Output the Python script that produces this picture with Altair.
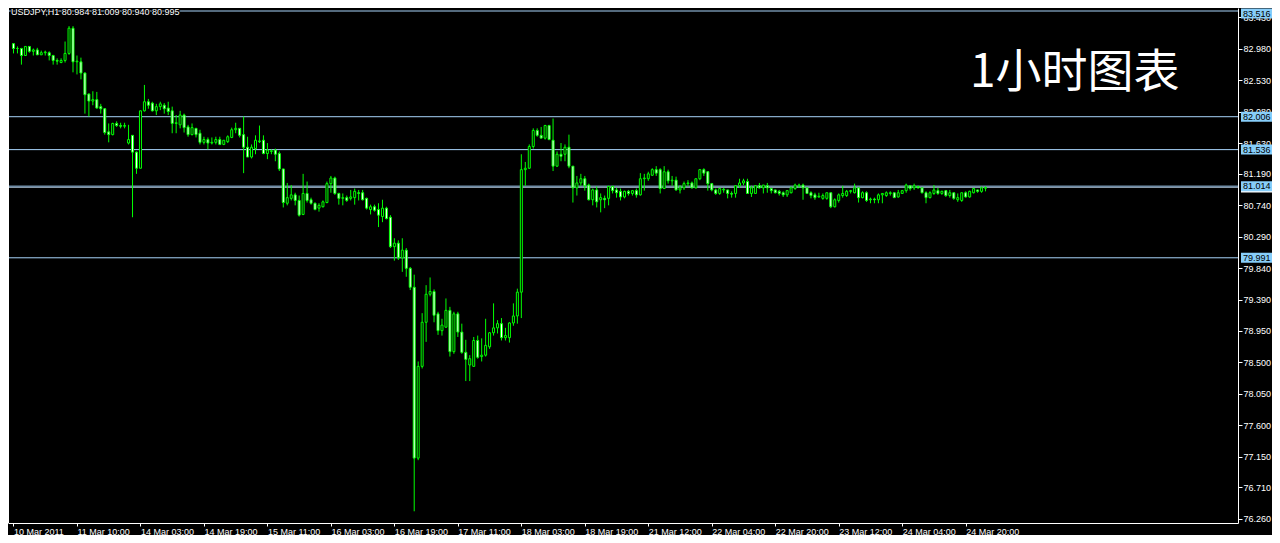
import altair as alt
import pandas as pd

# ---------------- data (USDJPY H1) ----------------
OPEN = [
 83.05, 82.98, 82.98, 82.88, 83.01, 82.94, 82.96, 82.89, 82.92, 82.92,
 82.88, 82.81, 82.78, 82.81, 82.91, 83.27, 82.79, 82.79, 82.63, 82.33,
 82.23, 82.25, 82.15, 82.12, 81.79, 81.75, 81.91, 81.88, 81.87, 81.63,
 81.74, 81.50, 81.27, 82.09, 82.22, 82.20, 82.09, 82.15, 82.17, 82.13,
 82.09, 81.91, 81.89, 82.03, 81.86, 81.75, 81.84, 81.77, 81.64, 81.68,
 81.63, 81.64, 81.68, 81.61, 81.65, 81.71, 81.82, 81.84, 81.75, 81.57,
 81.43, 81.55, 81.65, 81.67, 81.48, 81.51, 81.53, 81.48, 81.26, 80.77,
 80.84, 80.89, 80.81, 80.61, 80.91, 80.82, 80.77, 80.70, 80.72, 80.78,
 81.05, 81.13, 80.91, 80.84, 80.85, 80.84, 80.85, 80.92, 80.92, 80.84,
 80.68, 80.72, 80.68, 80.58, 80.70, 80.57, 80.15, 80.20, 79.99, 80.10,
 79.84, 79.57, 77.13, 78.44, 79.07, 79.47, 79.51, 79.19, 78.95, 79.00,
 79.24, 78.65, 79.19, 78.93, 78.64, 78.46, 78.44, 78.81, 78.58, 78.60,
 78.72, 78.92, 78.99, 79.05, 78.85, 78.85, 79.06, 79.16, 79.50, 81.25,
 81.27, 81.58, 81.81, 81.74, 81.70, 81.88, 81.67, 81.30, 81.47, 81.47,
 81.57, 81.30, 80.99, 81.06, 81.12, 81.03, 80.82, 80.96, 80.82, 80.84,
 80.84, 81.01, 80.96, 80.94, 80.86, 80.94, 80.91, 80.95, 80.89, 81.12,
 81.12, 81.17, 81.25, 81.25, 80.98, 81.22, 81.09, 81.10, 80.96, 80.99,
 81.05, 81.06, 80.99, 81.12, 81.25, 81.22, 81.05, 80.96, 80.91, 80.96,
 80.96, 80.91, 80.91, 81.02, 81.06, 81.08, 80.91, 80.91, 81.02, 80.99,
 81.02, 80.98, 80.96, 80.94, 80.92, 80.89, 80.92, 80.98, 81.02, 81.03,
 80.99, 80.92, 80.89, 80.86, 80.84, 80.84, 80.92, 80.72, 80.81, 80.88,
 80.88, 80.94, 80.92, 80.99, 80.85, 80.92, 80.82, 80.83, 80.82, 80.89,
 80.88, 80.91, 80.92, 80.86, 80.91, 80.95, 81.02, 80.99, 81.01, 80.99,
 80.92, 80.85, 80.91, 80.95, 80.91, 80.95, 80.88, 80.92, 80.82, 80.81,
 80.92, 80.86, 80.92, 80.96, 80.94, 80.984]
HIGH = [
 83.05, 83.01, 82.99, 83.01, 83.01, 82.98, 82.99, 82.95, 82.95, 82.94,
 82.89, 82.84, 82.84, 83.08, 83.30, 83.30, 82.88, 82.85, 82.64, 82.34,
 82.37, 82.36, 82.19, 82.13, 81.91, 81.92, 81.94, 81.92, 81.92, 81.89,
 81.74, 81.51, 82.09, 82.46, 82.26, 82.22, 82.19, 82.22, 82.20, 82.22,
 82.15, 82.03, 82.09, 82.05, 81.89, 81.91, 81.84, 81.82, 81.72, 81.71,
 81.71, 81.72, 81.72, 81.67, 81.74, 81.85, 81.92, 81.84, 82.01, 81.72,
 81.61, 81.74, 81.88, 81.74, 81.63, 81.54, 81.55, 81.51, 81.26, 81.06,
 81.03, 80.92, 80.88, 81.19, 81.08, 80.85, 80.78, 80.77, 80.81, 81.08,
 81.16, 81.15, 80.92, 80.91, 80.88, 80.96, 80.98, 80.96, 80.96, 80.85,
 80.75, 80.75, 80.77, 80.82, 80.72, 80.60, 80.27, 80.24, 80.27, 80.13,
 79.86, 79.75, 78.51, 79.20, 79.60, 79.71, 79.54, 79.22, 79.12, 79.41,
 79.29, 79.22, 79.22, 79.05, 78.82, 78.60, 78.86, 78.88, 78.84, 79.12,
 78.93, 79.34, 79.10, 79.13, 78.99, 79.07, 79.34, 79.55, 81.47, 81.36,
 81.61, 81.84, 81.84, 81.86, 81.89, 81.89, 81.98, 81.51, 81.63, 81.61,
 81.75, 81.30, 81.16, 81.19, 81.16, 81.05, 80.98, 81.01, 80.91, 80.88,
 81.02, 81.02, 80.99, 80.98, 80.95, 80.96, 80.96, 80.98, 81.20, 81.19,
 81.22, 81.27, 81.30, 81.27, 81.30, 81.25, 81.16, 81.15, 81.03, 81.08,
 81.10, 81.08, 81.12, 81.26, 81.27, 81.23, 81.06, 80.98, 80.99, 80.99,
 80.96, 80.94, 81.03, 81.12, 81.12, 81.12, 81.02, 81.03, 81.06, 81.03,
 81.06, 80.99, 80.96, 80.96, 80.94, 80.96, 81.01, 81.05, 81.05, 81.05,
 80.99, 80.94, 80.92, 80.92, 80.91, 80.92, 80.92, 80.84, 80.91, 81.02,
 80.96, 80.96, 81.05, 80.99, 80.94, 80.94, 80.85, 80.85, 80.91, 80.91,
 80.94, 80.94, 80.92, 80.96, 80.96, 81.05, 81.03, 81.05, 81.02, 80.99,
 80.94, 80.94, 81.03, 80.99, 80.95, 80.96, 80.96, 80.92, 80.91, 80.92,
 80.94, 80.95, 80.99, 80.96, 81.01, 81.009]
LOW = [
 82.91, 82.91, 82.75, 82.88, 82.92, 82.88, 82.89, 82.89, 82.88, 82.81,
 82.75, 82.75, 82.77, 82.78, 82.89, 82.64, 82.61, 82.54, 82.05, 82.01,
 82.17, 82.12, 82.05, 81.75, 81.64, 81.74, 81.86, 81.84, 81.84, 81.61,
 80.57, 81.19, 81.27, 82.08, 82.12, 82.08, 82.03, 82.10, 82.05, 82.03,
 81.77, 81.77, 81.84, 81.78, 81.72, 81.74, 81.71, 81.61, 81.61, 81.54,
 81.61, 81.61, 81.60, 81.60, 81.63, 81.70, 81.77, 81.71, 81.20, 81.43,
 81.41, 81.47, 81.63, 81.47, 81.40, 81.47, 81.37, 81.23, 80.71, 80.74,
 80.81, 80.74, 80.58, 80.60, 80.78, 80.75, 80.67, 80.65, 80.71, 80.77,
 80.92, 80.89, 80.75, 80.74, 80.79, 80.81, 80.75, 80.81, 80.81, 80.68,
 80.61, 80.65, 80.43, 80.50, 80.54, 80.13, 79.95, 79.96, 79.79, 79.72,
 79.53, 76.37, 77.10, 78.41, 78.79, 79.44, 79.07, 78.89, 78.88, 78.99,
 78.58, 78.62, 78.86, 78.62, 78.23, 78.23, 78.44, 78.55, 78.51, 78.58,
 78.69, 78.88, 78.91, 78.81, 78.81, 78.78, 79.02, 79.05, 79.13, 81.02,
 81.26, 81.55, 81.72, 81.70, 81.68, 81.67, 81.23, 81.29, 81.37, 81.37,
 81.27, 80.78, 80.88, 81.02, 80.95, 80.81, 80.74, 80.71, 80.64, 80.70,
 80.74, 80.91, 80.85, 80.81, 80.84, 80.88, 80.88, 80.85, 80.88, 80.95,
 81.09, 81.16, 81.16, 80.91, 80.98, 81.05, 81.02, 80.95, 80.91, 80.96,
 81.01, 80.98, 80.98, 81.10, 81.16, 80.95, 80.94, 80.89, 80.89, 80.92,
 80.84, 80.85, 80.85, 80.99, 81.03, 80.91, 80.86, 80.91, 80.98, 80.91,
 80.92, 80.91, 80.91, 80.88, 80.86, 80.86, 80.91, 80.96, 80.99, 80.82,
 80.91, 80.84, 80.82, 80.85, 80.82, 80.82, 80.70, 80.71, 80.78, 80.85,
 80.86, 80.91, 80.91, 80.78, 80.84, 80.79, 80.77, 80.77, 80.77, 80.77,
 80.86, 80.88, 80.85, 80.85, 80.91, 80.92, 80.95, 80.96, 80.98, 80.91,
 80.77, 80.84, 80.89, 80.89, 80.89, 80.86, 80.85, 80.82, 80.79, 80.79,
 80.85, 80.85, 80.91, 80.92, 80.92, 80.940]
CLOSE = [
 82.98, 82.98, 82.88, 83.01, 82.94, 82.96, 82.89, 82.92, 82.93, 82.88,
 82.81, 82.80, 82.81, 82.91, 83.27, 82.79, 82.80, 82.63, 82.32, 82.23,
 82.25, 82.13, 82.12, 81.78, 81.75, 81.91, 81.88, 81.87, 81.88, 81.68,
 81.50, 81.27, 82.09, 82.22, 82.17, 82.09, 82.15, 82.19, 82.12, 82.08,
 81.91, 81.92, 82.03, 81.85, 81.75, 81.85, 81.75, 81.64, 81.68, 81.63,
 81.64, 81.68, 81.61, 81.67, 81.72, 81.82, 81.84, 81.74, 81.57, 81.43,
 81.57, 81.67, 81.66, 81.48, 81.53, 81.52, 81.47, 81.26, 80.78, 80.85,
 80.89, 80.81, 80.60, 80.91, 80.81, 80.77, 80.68, 80.74, 80.79, 81.05,
 81.13, 80.91, 80.84, 80.85, 80.81, 80.86, 80.94, 80.91, 80.82, 80.70,
 80.72, 80.67, 80.60, 80.70, 80.55, 80.15, 80.20, 79.99, 80.10, 79.84,
 79.57, 77.13, 78.44, 79.07, 79.47, 79.51, 79.17, 78.95, 79.03, 79.24,
 78.65, 79.19, 78.93, 78.64, 78.54, 78.55, 78.81, 78.57, 78.60, 78.74,
 78.92, 78.99, 79.05, 78.85, 78.88, 79.06, 79.16, 79.50, 81.25, 81.27,
 81.58, 81.81, 81.74, 81.70, 81.88, 81.68, 81.30, 81.47, 81.44, 81.57,
 81.30, 80.99, 81.06, 81.12, 81.02, 80.82, 80.96, 80.79, 80.85, 80.82,
 81.01, 80.95, 80.92, 80.86, 80.94, 80.91, 80.95, 80.89, 81.12, 81.13,
 81.19, 81.25, 81.20, 80.98, 81.22, 81.09, 81.10, 80.96, 80.99, 81.05,
 81.06, 80.99, 81.12, 81.25, 81.20, 81.05, 80.96, 80.91, 80.98, 80.97,
 80.91, 80.90, 81.02, 81.06, 81.09, 80.91, 80.99, 81.02, 80.99, 81.03,
 80.99, 80.95, 80.92, 80.91, 80.89, 80.95, 80.99, 81.03, 81.03, 80.99,
 80.91, 80.88, 80.85, 80.87, 80.88, 80.92, 80.72, 80.82, 80.89, 80.91,
 80.94, 80.95, 80.99, 80.85, 80.92, 80.81, 80.83, 80.82, 80.89, 80.91,
 80.92, 80.92, 80.85, 80.92, 80.95, 81.03, 80.98, 81.02, 80.99, 80.92,
 80.85, 80.92, 80.96, 80.91, 80.94, 80.88, 80.92, 80.84, 80.85, 80.92,
 80.86, 80.94, 80.98, 80.94, 80.99, 80.995]

TIME_LABELS = ["10 Mar 2011", "11 Mar 10:00", "14 Mar 03:00", "14 Mar 19:00",
               "15 Mar 11:00", "16 Mar 03:00", "16 Mar 19:00", "17 Mar 11:00",
               "18 Mar 03:00", "18 Mar 19:00", "21 Mar 12:00", "22 Mar 04:00",
               "22 Mar 20:00", "23 Mar 12:00", "24 Mar 04:00", "24 Mar 20:00"]
LABEL_EVERY = 16
PRICE_TICKS = [83.430, 82.980, 82.530, 82.080, 81.630, 81.190, 80.740, 80.290,
               79.840, 79.390, 78.950, 78.500, 78.050, 77.600, 77.150, 76.710, 76.260]
TOP_LEVEL = [83.516]
LEVELS = [82.006, 81.536, 81.014, 79.991]
BID = 80.995
TITLE = "USDJPY,H1  80.984 81.009 80.940 80.995"
WATERMARK = "1小时图表"

# ---------------- chart ----------------
FONT = "Liberation Sans"
W, H = 1230, 515
LIME = "#00ff00"
LEVEL_COLOR = "#a8d4fa"
BOX_COLOR = "#87cefa"
BOX_X = 1249.5

df = pd.DataFrame({"i": list(range(len(OPEN))), "open": OPEN, "high": HIGH,
                   "low": LOW, "close": CLOSE})
lv_all = pd.DataFrame({"price": TOP_LEVEL + LEVELS})
lv_top = pd.DataFrame({"price": TOP_LEVEL,
                       "label": [f"{p:.3f}" for p in TOP_LEVEL]})
lv = pd.DataFrame({"price": LEVELS, "label": [f"{p:.3f}" for p in LEVELS]})
bid = pd.DataFrame({"price": [BID]})

xs = alt.Scale(domain=[-0.125, 307.375], nice=False, zero=False)
ys = alt.Scale(domain=[76.2028, 83.5589], nice=False, zero=False)

label_array = "[" + ",".join(f"'{s}'" for s in TIME_LABELS) + "]"
x_axis = alt.Axis(values=[k * LABEL_EVERY for k in range(len(TIME_LABELS))],
                  labelExpr=f"{label_array}[round(datum.value/{LABEL_EVERY})]",
                  orient="bottom", labelAlign="left", labelBaseline="top",
                  labelColor="white", tickColor="white", domainColor="white",
                  tickSize=3, labelPadding=1, labelFont=FONT, labelFontSize=9,
                  labelOverlap=False, labelFlush=False, grid=False, title=None)
y_axis = alt.Axis(values=PRICE_TICKS, format=".3f", orient="right",
                  labelColor="white", tickColor="white", domainColor="white",
                  tickSize=4, labelPadding=1, labelFont=FONT, labelFontSize=9,
                  labelOverlap=False, labelFlush=False, grid=False, title=None)


def Y(field):
    return alt.Y(field, scale=ys, axis=y_axis)


def X(field):
    return alt.X(field, scale=xs, axis=x_axis)


levels = alt.Chart(lv_all).mark_rule(color=LEVEL_COLOR, strokeWidth=1).encode(
    y=Y("price:Q"))
bidline = alt.Chart(bid).mark_rule(color="#8a9aaa", strokeWidth=1).encode(
    y=Y("price:Q"))

wicks = alt.Chart(df).mark_rule(color=LIME, strokeWidth=1).encode(
    x=X("i:Q"), y=Y("low:Q"), y2="high:Q")

bodies = alt.Chart(df).mark_bar(width=2, stroke=LIME, strokeWidth=1,
                                cornerRadius=0).encode(
    x=X("i:Q"), y=Y("open:Q"), y2="close:Q",
    fill=alt.condition("datum.close > datum.open", alt.value("black"),
                       alt.value("white")))

left_border = alt.Chart(bid).mark_rule(color="white", strokeWidth=1).encode(
    x=alt.value(0.5), y=alt.value(0), y2=alt.value(H))

bid_box = alt.Chart(bid).mark_tick(color="white", size=33, thickness=10,
                                   opacity=1).encode(
    x=alt.value(BOX_X), y=Y("price:Q"))
boxes = alt.Chart(lv).mark_tick(color=BOX_COLOR, size=33, thickness=10,
                                opacity=1).encode(
    x=alt.value(BOX_X), y=Y("price:Q"))
box_text = alt.Chart(lv).mark_text(align="left", baseline="middle", font=FONT,
                                   fontSize=9, color="black").encode(
    x=alt.value(1235), y=Y("price:Q"), text="label:N")
# the top label box is pushed down so that it stays inside the window
top_box = alt.Chart(lv_top).mark_tick(color=BOX_COLOR, size=33, thickness=10,
                                      opacity=1, yOffset=2.5).encode(
    x=alt.value(BOX_X), y=Y("price:Q"))
top_text = alt.Chart(lv_top).mark_text(align="left", baseline="middle",
                                       font=FONT, fontSize=9, color="black",
                                       yOffset=2.5).encode(
    x=alt.value(1235), y=Y("price:Q"), text="label:N")

tdf = pd.DataFrame({"t": [TITLE]})
title_halo = alt.Chart(tdf).mark_text(align="left", baseline="top", font=FONT,
                                      fontSize=9, color="black", stroke="black",
                                      strokeWidth=2).encode(
    x=alt.value(3), y=alt.value(0), text="t:N")
title_txt = alt.Chart(tdf).mark_text(align="left", baseline="top", font=FONT,
                                     fontSize=9, color="white").encode(
    x=alt.value(3), y=alt.value(0), text="t:N")

wdf = pd.DataFrame({"t": [WATERMARK]})
watermark = alt.Chart(wdf).mark_text(align="left", baseline="alphabetic",
                                     font="Noto Sans CJK SC", fontSize=46,
                                     color="white").encode(
    x=alt.value(962), y=alt.value(79), text="t:N")

chart = alt.layer(
    levels, bidline, wicks, bodies, left_border, bid_box, boxes, box_text,
    top_box, top_text, title_halo, title_txt, watermark
).properties(
    width=W, height=H,
    padding={"left": 0, "top": 0, "right": 34, "bottom": 12},
    autosize=alt.AutoSizeParams(type="none"),
    background="black",
).configure_view(stroke=None).configure_axis(labelOverlap=False)

chart.save("out.html", embed_options={"renderer": "svg", "actions": False})
